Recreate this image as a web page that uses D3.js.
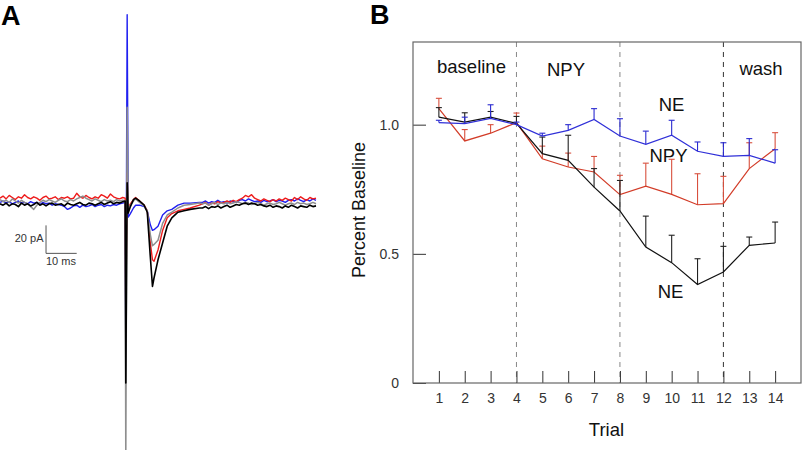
<!DOCTYPE html>
<html><head><meta charset="utf-8">
<script src="https://cdn.jsdelivr.net/npm/d3@7"></script>
<style>body{margin:0;background:#fff}svg{display:block;font-family:Arial,"Liberation Sans",sans-serif}</style>
</head><body><svg id="c" width="803" height="450"></svg>
<script>
// ---------- Panel B data ----------
const trials = [1,2,3,4,5,6,7,8,9,10,11,12,13,14];
const blueNE   = [1.008,1.004,1.024,1.0,0.956,0.978,1.020,0.956,0.924,0.959,0.897,0.877,0.881,0.851];
const blueErr  = [0.009,0.025,0.053,0.01,0.011,0.022,0.042,0.067,0.051,0.058,0.036,0.053,0.065,0.052];
const redNPY   = [1.062,0.937,0.967,1.008,0.868,0.836,0.817,0.729,0.762,0.730,0.690,0.694,0.830,0.907];
const redErr   = [0.040,0.044,0.033,0.037,0.049,0.054,0.060,0.075,0.089,0.136,0.120,0.106,0.100,0.062];
const blackNE  = [1.029,1.010,1.029,1.005,0.888,0.862,0.758,0.666,0.526,0.466,0.381,0.430,0.533,0.542];
const blackErr = [0.037,0.036,0.022,0.027,0.064,0.097,0.072,0.118,0.120,0.106,0.100,0.099,0.032,0.081];
const yTicks = [0, 0.5, 1.0];
const yTickLabels = ["0", "0.5", "1.0"];
const phaseBounds = [4, 8, 12];
const phaseLabels = ["baseline", "NPY", "wash"];

// ---------- Panel A data (ms, pA) ----------
const traceTimes = [
  0,1,2,3,4,5,6,7,8,9,10,11,12,13,14,15,16,17,18,19,20,21,22,23,24,25,26,27,28,29,30,31,32,33,34,35,36,37,38,39,40,
  40.8,41.0,41.45,41.8,42.5,43.5,44.2,45.5,47,48,49,49.7,50.2,51.5,53,54.5,56,58,60,62,65,
  66,67,68,69,70,71,72,73,74,75,76,77,78,79,80,81,82,83,84,85,86,87,88,89,90,91,92,93,94,95,96,97,98,99,100,101,102,103
];
const traceBlack = [
  -2,-3,-1.5,-3.5,-2,-2.5,-4,-1.5,-3,-2, -3.5,-2.5,-1,-3,-2,-3.5,-2,-1.5,-3,-2.5,
  -2,-3.5,-1.5,-2.5,-3,-2,-1,-2.5,-3,-1.5, -2,-3,-2,-1,-2.5,-1.5,-0.5,-2,-1,-1.5, -0.5,
  0,-130,13,-8.5,-4,1,2,0,-3,-8,-40,-61,-55,-42,-30,-18,-12,-8,-7,-6,-5,
  -5,-4,-5.5,-4,-4.5,-3.5,-5,-4,-3,-4.5, -3.5,-2.5,-3,-2,-1.5,-2.5,-1.5,-2,-3,-2.5,
  -3.5,-4,-3,-4.5,-3.5,-4,-5,-3.5,-4.5,-3, -4,-5,-3.5,-4,-4.5,-3,-4,-3.5
];
const traceRed = [
  2,3.5,1.5,4,2.5,1,3,2,4.5,2.5, 1.5,3,2,0.5,2.5,3.5,1.5,2,3,1,
  2.5,2,3,1.5,2,5.5,3,2,4,2.5, 1.5,3,2,4.5,3.5,2,5,3,2,1.5, 2.5,
  2,-86,20,-5,-2,1,2.5,0,-3,-7,-30,-42,-43,-35,-21,-12,-9,-7,-6,-5,-3,
  -2,-1,-3,-1.5,-2,-0.5,-1.5,-1,0,-1, 0.5,-0.5,1,2,4,3,4.5,2,1,0,
  1.5,0.5,-0.5,1,0,1.5,0.5,2,1,0, 2.5,1,3,1.5,0.5,2.5,1.5,2
];
const traceGray = [
  1,-0.5,0.5,-1,1.5,0,-1.5,0.5,-1,-2, -4,-6,-3,-1,0.5,-0.5,1,0,-1,0.5,
  1.5,0,-0.5,1,0,1.5,2.5,3.5,2,1, 0,1.5,0.5,-0.5,1,0,0.5,-0.5,1,0, 0.5,
  0,-190,67,-6,-3,0,1.5,-1,-3.5,-7,-24,-32,-31,-28,-16,-10,-8,-5,-3,-2.5,-1.5,
  -2,-1.5,-3,-2,-1,-2.5,-1.5,-2,-1,-2, -1.5,-0.5,-1,-2,-1,-1.5,-2.5,-2,-1,-2,
  -3,-2,-1.5,-2.5,-2,-1,-2,-3,-2,-1.5, -2.5,-1,-2,-1.5,-2.5,-2,-1,-2
];
const traceBlue = [
  -1,0,-1.5,-0.5,-2,-1,0,-1.5,-1,-2, -0.5,-1.5,-1,-2.5,-1,-2,-1.5,-3,-2,-2.5,
  -3,-4,-6,-5,-3.5,-3,-4.5,-3,-4,-3.5, -2.5,-4,-3,-2.5,-4,-3,-3.5,-2.5,-3,-2, -1.5,
  -1,-110,133,-11.5,-9,-5,-3,-3,-4,-7,-17,-21,-20.5,-18,-10,-7,-6,-3,-1.5,-1.5,-1,
  -1,0,-1.5,-0.5,-1,0.5,-1,-0.5,-1.5,0, -0.5,-1,0.5,1,0,1.5,0.5,-0.5,0,-1,
  0.5,-0.5,0,1,-0.5,0.5,0,-1,0.5,1, 0,1.5,0.5,-0.5,1,0,1.5,0.5
];
const scaleBarTime = 10;   // ms
const scaleBarAmp = 20;    // pA

const svg = d3.select('#c');

// ================= Panel A =================
const tx = d3.scaleLinear().domain([0, 103]).range([0, 316]);
const ty = d3.scaleLinear().domain([0, 20]).range([201, 173]);
const traceLine = d3.line().x(d => tx(d[0])).y(d => ty(d[1]));
const traces = [
  {vals: traceBlue, color: '#2020f0', w: 1.4},
  {vals: traceRed, color: '#ee1c1c', w: 1.4},
  {vals: traceGray, color: '#8e8e8e', w: 1.5},
  {vals: traceBlack, color: '#000', w: 1.6}
];
const gA = svg.append('g');
traces.forEach(tr => {
  gA.append('path')
    .datum(traceTimes.map((t, i) => [t, tr.vals[i]]))
    .attr('d', traceLine)
    .attr('fill', 'none')
    .attr('stroke', tr.color)
    .attr('stroke-width', tr.w)
    .attr('stroke-linejoin', 'round');
});
// scale bar
const sbT = 15, sbI = -37.4;
gA.append('path')
  .attr('d', `M${tx(sbT)},${ty(sbI + scaleBarAmp)}V${ty(sbI)}H${tx(sbT + scaleBarTime)}`)
  .attr('fill', 'none').attr('stroke', '#555').attr('stroke-width', 1);
gA.append('text').attr('x', 43.5).attr('y', 242).attr('text-anchor', 'end')
  .attr('font-size', 11).attr('fill', '#333').text(`${scaleBarAmp} pA`);
gA.append('text').attr('x', 46).attr('y', 265)
  .attr('font-size', 11).attr('fill', '#333').text(`${scaleBarTime} ms`);
svg.append('text').attr('x', 1).attr('y', 25).attr('font-size', 27)
  .attr('font-weight', 'bold').text('A');

// ================= Panel B =================
const x = d3.scaleLinear().domain([0, 15]).range([413, 801]);
const y = d3.scaleLinear().domain([0, 1.32]).range([383, 42]);
const gB = svg.append('g');

svg.append('text').attr('x', 370).attr('y', 24).attr('font-size', 27)
  .attr('font-weight', 'bold').text('B');

// phase dashed lines
gB.selectAll('line.phase').data(phaseBounds).join('line')
  .attr('x1', d => x(d)).attr('x2', d => x(d))
  .attr('y1', y.range()[1]).attr('y2', y.range()[0])
  .attr('stroke', (d, i) => i < 2 ? '#888' : '#333')
  .attr('stroke-width', 1)
  .attr('stroke-dasharray', '5,5');

// axes
const xAxis = d3.axisBottom(x).tickValues(trials).tickSize(-12).tickPadding(10);
const gx = gB.append('g').attr('transform', 'translate(0,383)').call(xAxis);
gx.select('.domain').remove();
gx.selectAll('.tick line').attr('stroke', '#333');
gx.selectAll('.tick text').attr('font-size', 14).attr('fill', '#333')
  .attr('font-family', 'Arial,"Liberation Sans",sans-serif');

const yAxis = d3.axisLeft(y).tickValues(yTicks).tickSize(-13).tickPadding(14)
  .tickFormat((d, i) => yTickLabels[i]);
const gy = gB.append('g').attr('transform', 'translate(413,0)').call(yAxis);
gy.select('.domain').remove();
gy.selectAll('.tick line').attr('stroke', '#333');
gy.selectAll('.tick text').attr('font-size', 14).attr('fill', '#333')
  .attr('font-family', 'Arial,"Liberation Sans",sans-serif');

// frame
gB.append('rect').attr('x', 413).attr('y', 42).attr('width', 388).attr('height', 341)
  .attr('fill', 'none').attr('stroke', '#666').attr('stroke-width', 1.2);

// series
const series = [
  {vals: redNPY, err: redErr, color: '#d23c28', errColor: '#d8503e'},
  {vals: blackNE, err: blackErr, color: '#111', errColor: '#222'},
  {vals: blueNE, err: blueErr, color: '#3030d8', errColor: '#2a2ad0'}
];
const line = d3.line().x(d => x(d[0])).y(d => y(d[1]));
series.forEach(s => {
  const pts = trials.map((t, i) => [t, s.vals[i], s.err[i]]);
  const g = gB.append('g');
  g.selectAll('line.eb').data(pts).join('line')
    .attr('x1', d => x(d[0])).attr('x2', d => x(d[0]))
    .attr('y1', d => y(d[1])).attr('y2', d => y(d[1] + d[2]))
    .attr('stroke', s.errColor).attr('stroke-width', 1.1);
  g.selectAll('line.cap').data(pts).join('line')
    .attr('x1', d => x(d[0]) - 3).attr('x2', d => x(d[0]) + 3)
    .attr('y1', d => y(d[1] + d[2])).attr('y2', d => y(d[1] + d[2]))
    .attr('stroke', s.errColor).attr('stroke-width', 1.1);
  g.append('path').datum(pts).attr('d', line)
    .attr('fill', 'none').attr('stroke', s.color).attr('stroke-width', 1.2);
});

// annotations
const ann = [
  {t: phaseLabels[0], x: 471.5, y: 73},
  {t: phaseLabels[1], x: 566, y: 76},
  {t: phaseLabels[2], x: 761, y: 75},
  {t: 'NE', x: 671.5, y: 110.5},
  {t: 'NPY', x: 668.5, y: 161.5},
  {t: 'NE', x: 670.5, y: 298}
];
gB.selectAll('text.ann').data(ann).join('text')
  .attr('x', d => d.x).attr('y', d => d.y).attr('text-anchor', 'middle')
  .attr('font-size', 18.5).attr('fill', '#111').text(d => d.t);

// axis titles
gB.append('text').attr('x', 606.5).attr('y', 436).attr('text-anchor', 'middle')
  .attr('font-size', 18.5).attr('fill', '#111').text('Trial');
gB.append('text').attr('transform', 'translate(365,210) rotate(-90)')
  .attr('text-anchor', 'middle').attr('font-size', 18).attr('fill', '#111')
  .text('Percent Baseline');
</script></body></html>
